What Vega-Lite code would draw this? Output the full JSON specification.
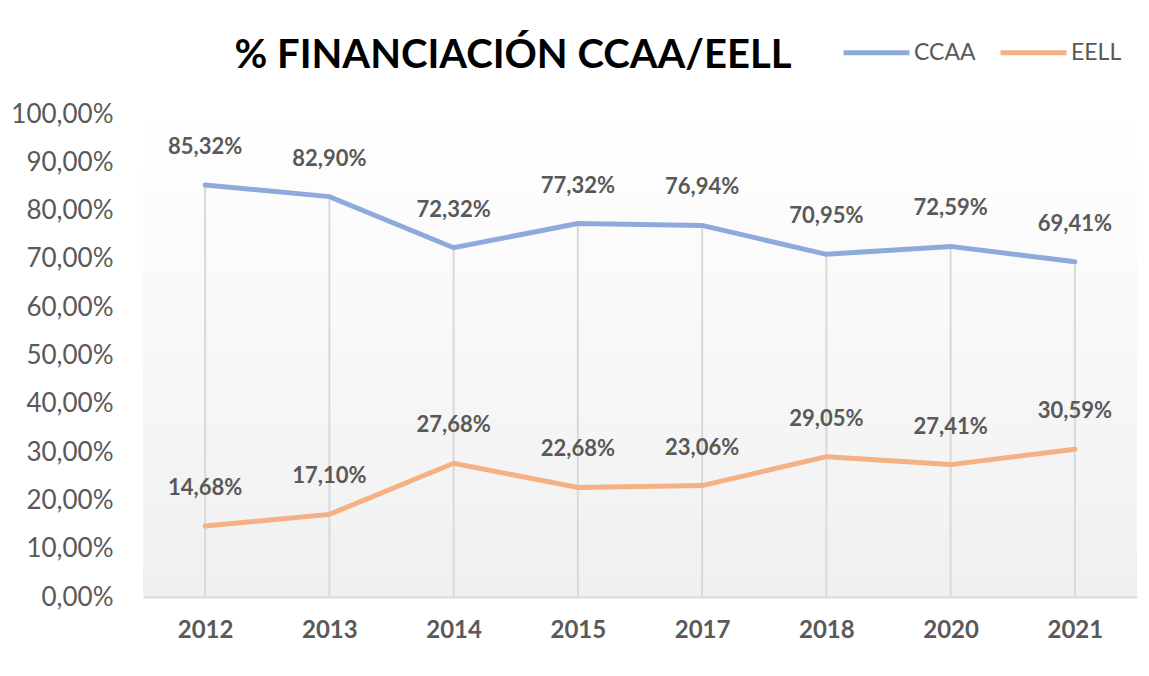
{
  "$schema": "https://vega.github.io/schema/vega-lite/v6.json",
  "autosize": "none",
  "width": 994,
  "height": 483,
  "padding": {"left": 143, "top": 114, "right": 12, "bottom": 79},
  "background": "#ffffff",
  "config": {
    "locale": {"number": {"decimal": ",", "thousands": ".", "grouping": [3], "currency": ["", " €"]}},
    "font": "Lato",
    "view": {"stroke": null, "fill": {"gradient": "linear", "x1": 0, "y1": 0, "x2": 0, "y2": 1, "stops": [{"offset": 0, "color": "#ffffff"}, {"offset": 1, "color": "#f0f0f0"}]}}
  },
  "title": {
    "text": "% FINANCIACIÓN CCAA/EELL",
    "font": "Lato",
    "fontSize": 40,
    "fontWeight": "bold",
    "color": "#000000",
    "anchor": "middle",
    "frame": "group",
    "dx": -127,
    "baseline": "alphabetic",
    "offset": -91
  },
  "data": {
    "values": [
      {"year": "2012", "series": "CCAA", "value": 0.8532},
      {"year": "2013", "series": "CCAA", "value": 0.8290},
      {"year": "2014", "series": "CCAA", "value": 0.7232},
      {"year": "2015", "series": "CCAA", "value": 0.7732},
      {"year": "2017", "series": "CCAA", "value": 0.7694},
      {"year": "2018", "series": "CCAA", "value": 0.7095},
      {"year": "2020", "series": "CCAA", "value": 0.7259},
      {"year": "2021", "series": "CCAA", "value": 0.6941},
      {"year": "2012", "series": "EELL", "value": 0.1468},
      {"year": "2013", "series": "EELL", "value": 0.1710},
      {"year": "2014", "series": "EELL", "value": 0.2768},
      {"year": "2015", "series": "EELL", "value": 0.2268},
      {"year": "2017", "series": "EELL", "value": 0.2306},
      {"year": "2018", "series": "EELL", "value": 0.2905},
      {"year": "2020", "series": "EELL", "value": 0.2741},
      {"year": "2021", "series": "EELL", "value": 0.3059}
    ]
  },
  "encoding": {
    "x": {
      "field": "year",
      "type": "ordinal",
      "scale": {"type": "point", "padding": 0.5},
      "axis": {
        "title": null,
        "labelAngle": 0,
        "labelFont": "Lato",
        "labelFontSize": 24,
        "labelFontWeight": "bold",
        "labelColor": "#595959",
        "labelPadding": 21,
        "ticks": false,
        "grid": false,
        "domainColor": "#d9d9d9",
        "domainWidth": 2
      }
    },
    "y": {
      "field": "value",
      "type": "quantitative",
      "scale": {"domain": [0, 1], "nice": false},
      "axis": {
        "title": null,
        "format": ".2%",
        "values": [0, 0.1, 0.2, 0.3, 0.4, 0.5, 0.6, 0.7, 0.8, 0.9, 1],
        "labelFont": "Lato",
        "labelFontSize": 26,
        "labelColor": "#595959",
        "labelPadding": 30,
        "ticks": false,
        "domain": false,
        "grid": false
      }
    }
  },
  "layer": [
    {
      "transform": [{"filter": "datum.series === 'CCAA'"}],
      "mark": {"type": "rule", "color": "#d9d9d9", "strokeWidth": 2},
      "encoding": {"y2": {"datum": 0}}
    },
    {
      "mark": {"type": "line", "strokeWidth": 5, "strokeCap": "round", "strokeJoin": "miter"},
      "encoding": {
        "color": {
          "field": "series",
          "type": "nominal",
          "scale": {"domain": ["CCAA", "EELL"], "range": ["#8eaadb", "#f4b183"]},
          "legend": {
            "title": null,
            "orient": "none",
            "legendX": 698,
            "legendY": -97,
            "direction": "horizontal",
            "symbolType": "stroke",
            "symbolSize": 4356,
            "symbolStrokeWidth": 5,
            "labelFont": "Lato",
            "labelFontSize": 23,
            "labelColor": "#595959",
            "labelOffset": 2,
            "columnPadding": 14
          }
        }
      }
    },
    {
      "mark": {"type": "text", "font": "Lato", "fontSize": 22, "fontWeight": "bold", "color": "#595959", "dy": -38, "baseline": "middle", "align": "center"},
      "encoding": {
        "text": {"field": "value", "type": "quantitative", "format": ".2%"}
      }
    }
  ]
}
